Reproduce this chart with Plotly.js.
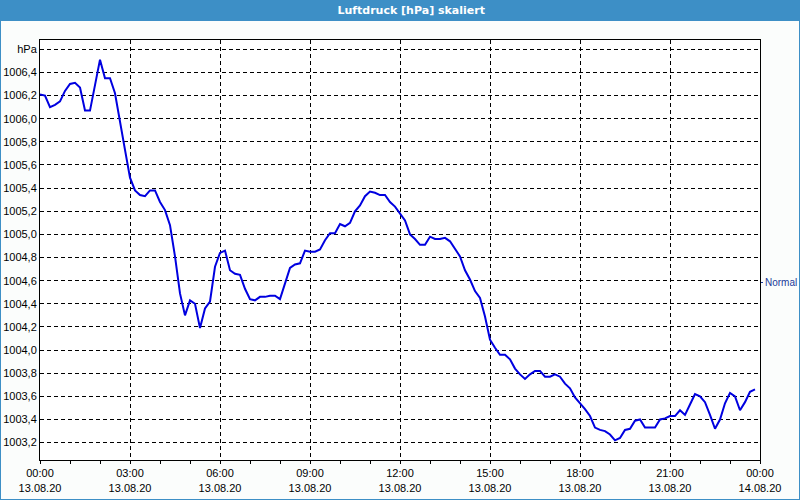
<!DOCTYPE html>
<html>
<head>
<meta charset="utf-8">
<script src="https://cdn.plot.ly/plotly-3.0.1.min.js"></script>
<style>html,body{margin:0;padding:0;background:#fbfdfc;}#chart{width:800px;height:500px;}</style>
</head>
<body>
<div id="chart"></div>
<script>
// minutes since 13.08.20 00:00 (10-minute readings)
const minutes = [0,10,20,30,40,50,60,70,80,90,100,110,120,130,140,150,160,170,180,190,200,210,220,230,240,250,260,270,280,290,300,310,320,330,340,350,360,370,380,390,400,410,420,430,440,450,460,470,480,490,500,510,520,530,540,550,560,570,580,590,600,610,620,630,640,650,660,670,680,690,700,710,720,730,740,750,760,770,780,790,800,810,820,830,840,850,860,870,880,890,900,910,920,930,940,950,960,970,980,990,1000,1010,1020,1030,1040,1050,1060,1070,1080,1090,1100,1110,1120,1130,1140,1150,1160,1170,1180,1190,1200,1210,1220,1230,1240,1250,1260,1270,1280,1290,1300,1310,1320,1330,1340,1350,1360,1370,1380,1390,1400,1410,1420,1430];
const pressure = [
1006.21,1006.20,1006.10,1006.12,1006.15,1006.24,1006.30,1006.31,1006.27,1006.07,
1006.07,1006.30,1006.51,1006.35,1006.35,1006.22,1005.96,1005.73,1005.49,1005.38,
1005.34,1005.33,1005.38,1005.38,1005.28,1005.21,1005.08,1004.81,1004.49,1004.30,
1004.43,1004.40,1004.19,1004.36,1004.42,1004.72,1004.84,1004.86,1004.69,1004.66,
1004.65,1004.53,1004.44,1004.43,1004.46,1004.46,1004.47,1004.47,1004.44,1004.58,
1004.71,1004.74,1004.75,1004.86,1004.85,1004.85,1004.87,1004.95,1005.01,1005.01,
1005.09,1005.07,1005.10,1005.20,1005.25,1005.33,1005.37,1005.36,1005.34,1005.34,
1005.28,1005.24,1005.18,1005.12,1005.00,1004.96,1004.91,1004.91,1004.98,1004.96,
1004.96,1004.97,1004.94,1004.88,1004.81,1004.69,1004.61,1004.51,1004.45,1004.29,
1004.09,1004.02,1003.96,1003.96,1003.92,1003.84,1003.79,1003.75,1003.79,1003.82,
1003.82,1003.77,1003.77,1003.79,1003.77,1003.71,1003.67,1003.59,1003.54,1003.49,
1003.43,1003.33,1003.31,1003.30,1003.27,1003.22,1003.24,1003.31,1003.32,1003.39,
1003.40,1003.33,1003.33,1003.33,1003.40,1003.41,1003.43,1003.43,1003.48,1003.44,
1003.53,1003.62,1003.60,1003.55,1003.44,1003.32,1003.40,1003.54,1003.63,1003.60,
1003.48,1003.55,1003.64,1003.66];

const xTickVals = [0,180,360,540,720,900,1080,1260,1440];
const xTickText = ["00:00<br>13.08.20","03:00<br>13.08.20","06:00<br>13.08.20","09:00<br>13.08.20","12:00<br>13.08.20","15:00<br>13.08.20","18:00<br>13.08.20","21:00<br>13.08.20","00:00<br>14.08.20"];
const yTickVals = [1003.2,1003.4,1003.6,1003.8,1004.0,1004.2,1004.4,1004.6,1004.8,1005.0,1005.2,1005.4,1005.6,1005.8,1006.0,1006.2,1006.4,1006.6];
const yTickText = ["1003,2","1003,4","1003,6","1003,8","1004,0","1004,2","1004,4","1004,6","1004,8","1005,0","1005,2","1005,4","1005,6","1005,8","1006,0","1006,2","1006,4","hPa"];
const normalValue = [1004.58];
const normalLabel = ["Normal"];
const yRange = [1003.05, 1006.68];

const font = {family: "Liberation Sans, DejaVu Sans, sans-serif", size: 11, color: "#000"};

const traces = [{
  x: minutes, y: pressure, type: "scatter", mode: "lines",
  line: {color: "#0000e0", width: 2},
  hoverinfo: "skip", showlegend: false
}, {
  // carrier for the right-hand "Normal" reference axis (draws nothing)
  x: [minutes[0]], y: normalValue, yaxis: "y2", type: "scatter", mode: "lines",
  line: {width: 0}, hoverinfo: "skip", showlegend: false
}];

const layout = {
  width: 800, height: 500,
  margin: {l: 40, r: 40, t: 40, b: 40},
  paper_bgcolor: "#fbfdfc", plot_bgcolor: "#ffffff",
  font: font,
  showlegend: false,
  title: {text: "<b>Luftdruck [hPa] skaliert</b>", font: {family: "DejaVu Sans, sans-serif", size: 11, color: "#ffffff"},
          x: 0.514, xanchor: "center", y: 0.98, yanchor: "middle", xref: "container", yref: "container"},
  xaxis: {
    range: [0, 1440], tickmode: "array", tickvals: xTickVals, ticktext: xTickText,
    showline: true, linecolor: "#000", linewidth: 1, mirror: true,
    ticks: "outside", ticklen: 3, tickcolor: "#000",
    showgrid: true, gridcolor: "#000", gridwidth: 1, griddash: "4px,3px",
    minor: {dtick: 60, tick0: 0, ticks: "outside", ticklen: 3, tickcolor: "#000", showgrid: false},
    zeroline: false, tickfont: font
  },
  yaxis: {
    range: yRange, tickmode: "array", tickvals: yTickVals, ticktext: yTickText,
    showline: true, linecolor: "#000", linewidth: 1, mirror: true,
    ticks: "", showgrid: true, gridcolor: "#000", gridwidth: 1, griddash: "4px,3px",
    zeroline: false, tickfont: font
  },
  yaxis2: {
    overlaying: "y", side: "right", range: yRange, tickmode: "array",
    tickvals: normalValue, ticktext: normalLabel, showgrid: false, zeroline: false,
    ticks: "outside", ticklen: 2, tickcolor: "#1a3a9a", showline: false,
    tickfont: {family: font.family, size: 10, color: "#1a3a9a"}
  },
  shapes: [
    {type: "rect", xref: "paper", yref: "paper", x0: -40/720, x1: 1 + 40/720, y0: 1 + 19/420, y1: 1 + 40/420,
     fillcolor: "#3d8fc6", line: {width: 0}, layer: "below"},
    {type: "rect", xref: "paper", yref: "paper", x0: -40/720, x1: 1 + 40/720, y0: -40/420, y1: 1 + 40/420,
     fillcolor: "rgba(0,0,0,0)", line: {color: "#3d8fc6", width: 2}, layer: "above"}
  ]
};

Plotly.newPlot("chart", traces, layout, {staticPlot: true, displayModeBar: false});
</script>
</body>
</html>
